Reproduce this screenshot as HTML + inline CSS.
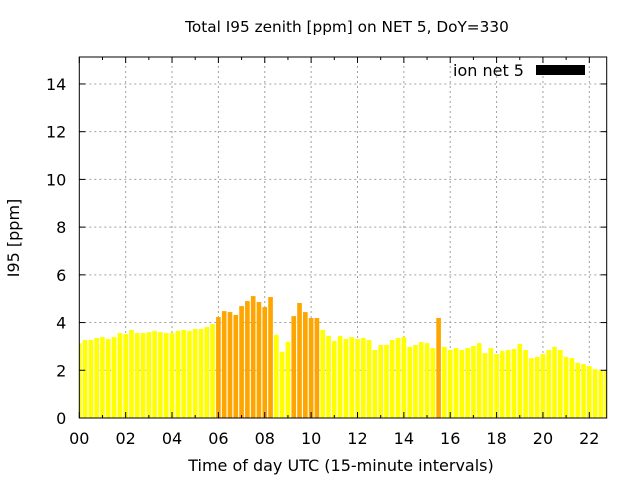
<!DOCTYPE html>
<html><head><meta charset="utf-8"><style>
body{margin:0;background:#fff;}
svg text{font-family:"DejaVu Sans","Liberation Sans",sans-serif;}
</style></head><body>
<svg width="640" height="480" xmlns="http://www.w3.org/2000/svg">
<rect width="640" height="480" fill="#fff"/>
<g id="grid"></g>
<g id="bars"></g>
<g id="axes"></g>
<text x="347" y="32" font-size="15.3" text-anchor="middle">Total I95 zenith [ppm] on NET 5, DoY=330</text>
<text x="341" y="471" font-size="16" text-anchor="middle">Time of day UTC (15-minute intervals)</text>
<text transform="translate(19,238) rotate(-90)" font-size="16" text-anchor="middle">I95 [ppm]</text>
<g>
<text x="453" y="76" font-size="16">ion net 5</text>
<rect x="536" y="65" width="49" height="10" fill="#000"/>
</g>
</svg>
<script>
const values=[3.13,3.27,3.27,3.35,3.39,3.31,3.39,3.56,3.52,3.69,3.56,3.56,3.60,3.65,3.60,3.56,3.56,3.65,3.69,3.65,3.73,3.73,3.81,3.94,4.23,4.48,4.44,4.32,4.69,4.90,5.11,4.86,4.65,5.07,3.48,2.77,3.19,4.27,4.82,4.44,4.19,4.19,3.69,3.44,3.23,3.44,3.31,3.39,3.31,3.35,3.27,2.85,3.06,3.06,3.27,3.35,3.39,2.98,3.06,3.19,3.14,2.93,4.19,2.98,2.85,2.93,2.85,2.93,3.02,3.14,2.72,2.93,2.68,2.81,2.85,2.89,3.10,2.85,2.51,2.56,2.68,2.85,2.98,2.85,2.56,2.51,2.31,2.26,2.18,2.05,2.01,1.97];
const highlighted=[24,25,26,27,28,29,30,31,32,33,37,38,39,40,41,62];
const yTicks=[0,2,4,6,8,10,12,14];
const xTickLabels=["00","02","04","06","08","10","12","14","16","18","20","22"];
const X0=79.3,X1=606.7,Y0=418,Y1=57,XMAX=22.75,YMAX=15.13;
const ns="http://www.w3.org/2000/svg";
const xs=h=>X0+(X1-X0)*h/XMAX;
const ys=v=>Y0-(Y0-Y1)*v/YMAX;
function mk(t,a,p){const e=document.createElementNS(ns,t);for(const k in a)e.setAttribute(k,a[k]);p.appendChild(e);return e;}
const grid=document.getElementById('grid'),bars=document.getElementById('bars'),axes=document.getElementById('axes');
yTicks.forEach(v=>{const y=ys(v);
 if(v>0){const l=mk('line',{x1:X0,x2:X1,y1:y,y2:y,stroke:'#a0a0a0','stroke-dasharray':'2,3'},grid);
 
 }
 mk('line',{x1:X0,x2:X0+6,y1:y,y2:y,stroke:'#000'},axes);
 mk('line',{x1:X1,x2:X1-6,y1:y,y2:y,stroke:'#000'},axes);
 const t=mk('text',{x:X0-13,y:y+6,'font-size':16,'text-anchor':'end'},axes);t.textContent=v;
 
 
});
for(let h=0;h<=22;h++){const x=xs(h);
 mk('line',{x1:x,x2:x,y1:Y0,y2:Y0-(h%2?3:6),stroke:'#000'},axes);
 mk('line',{x1:x,x2:x,y1:Y1,y2:Y1+(h%2?3:6),stroke:'#000'},axes);}
xTickLabels.forEach((s,i)=>{const x=xs(i*2);
 if(i>0){const l=mk('line',{x1:x,x2:x,y1:Y0,y2:Y1,stroke:'#a0a0a0','stroke-dasharray':'2,3'},grid);
 
 }
 const t=mk('text',{x:x,y:444,'font-size':16,'text-anchor':'middle'},axes);t.textContent=s;
 
 
});
const cp=mk('clipPath',{id:'cp'},bars);mk('rect',{x:X0,y:Y1,width:X1-X0,height:Y0-Y1},cp);
const bw=(xs(0.25)-xs(0))*0.8;
values.forEach((v,i)=>{const cx=xs(i*0.25);
 const r=mk('rect',{x:cx-bw/2,y:ys(v),width:bw,height:Y0-ys(v),fill:highlighted.includes(i)?'#ffa500':'#ffff00','clip-path':'url(#cp)'},bars);
 
 
});
mk('rect',{x:X0,y:Y1,width:X1-X0,height:Y0-Y1,fill:'none',stroke:'#000','stroke-width':1},axes);
</script>
</body></html>
